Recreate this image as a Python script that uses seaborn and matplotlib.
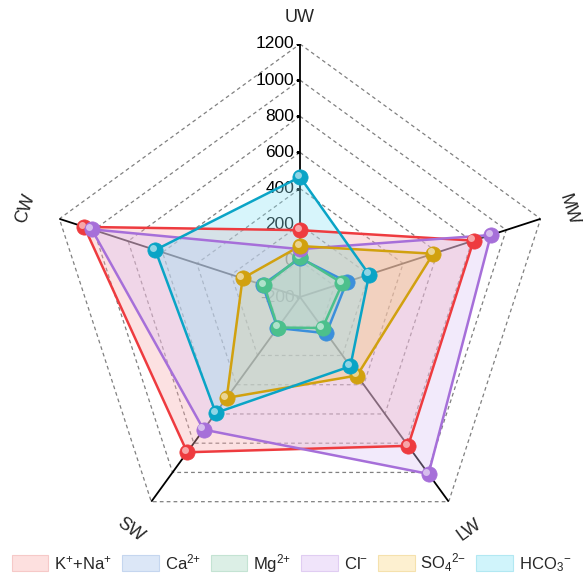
import numpy as np
import pandas as pd
import matplotlib
matplotlib.use("Agg")
import matplotlib.pyplot as plt
import seaborn as sns
from matplotlib.patches import Patch
from matplotlib.transforms import offset_copy

# data (mg/L)
sites = ["UW", "MW", "LW", "SW", "CW"]
k_na = [170, 810, 818, 862, 1055]
ca = [15, 72, 48, 12, 18]
mg = [20, 47, 12, 9, 9]
cl = [65, 910, 1010, 707, 1012]
so4 = [82, 575, 337, 490, 134]
hco3 = [464, 202, 274, 593, 642]

ion_labels = ["K$^{+}$+Na$^{+}$", "Ca$^{2{+}}$", "Mg$^{2{+}}$", "Cl$^{-}$",
              "SO$_4$$^{2{-}}$", "HCO$_3$$^{-}$"]
r_ticks = [-200, 0, 200, 400, 600, 800, 1000, 1200]

line_colors = ["#ee3b3f", "#3b8fdb", "#4cc08c", "#a66fd9", "#d1a10f", "#0aa4c6"]
fill_colors = ["#f9a9ad", "#9dc0ea", "#9fdcc0", "#dcc3f4", "#f6c873", "#8fe4f5"]
legend_faces = ["#fde0df", "#dce7f7", "#dcefe6", "#f0e4fa", "#fdf0d0", "#d0f4fb"]
legend_edges = ["#f6c9c8", "#c5d6ef", "#c4e3d3", "#e0cdf2", "#f5e1ad", "#b2e8f2"]

sns.set_theme(style="white")
plt.rcParams["font.family"] = ["Liberation Sans", "DejaVu Sans"]
plt.rcParams["mathtext.default"] = "regular"

# long table for seaborn
n = len(sites)
theta = np.pi / 2 - np.arange(n) * 2 * np.pi / n
series = [k_na, ca, mg, cl, so4, hco3]
rows = []
for lab, vals in zip(ion_labels, series):
    for i in range(n + 1):
        rows.append({"ion": lab, "theta": theta[i % n], "value": vals[i % n], "order": i})
df = pd.DataFrame(rows)

fig = plt.figure(figsize=(5.83, 5.78), dpi=100)
ax = fig.add_axes([47 / 583, 28 / 578, 506 / 583, 506 / 578], projection="polar")
ax.set_ylim(-200, 1200)
ax.grid(False)
ax.spines["polar"].set_visible(False)
ax.set_xticks([])
ax.set_yticks([])
ax.patch.set_alpha(0)

# pentagon grid
for t in r_ticks[1:]:
    ax.plot(np.append(theta, theta[0]), [t] * (n + 1), color="#808080",
            lw=0.9, ls=(0, (3, 2.5)), zorder=1)
# spokes
for th in theta:
    ax.plot([th, th], [-200, 1200], color="black", lw=1.3, zorder=2)

# radial tick labels on UW axis
ax.plot(np.full(len(r_ticks), np.pi / 2), r_ticks, ls="none", marker=0,
        ms=3, color="black", zorder=2)
lab_tr = offset_copy(ax.transData, fig=fig, x=-4, y=0, units="points")
for t in r_ticks:
    ax.text(np.pi / 2, t, str(t), transform=lab_tr, ha="right", va="center",
            fontsize=12.5, color="black", zorder=1)

# site labels, tangential like Origin
label_r = {"UW": 1345, "MW": 1365, "LW": 1395, "SW": 1395, "CW": 1395}
for th, s in zip(theta, sites):
    deg = np.degrees(th)
    rot = deg - 90 if np.sin(th) >= 0 else deg + 90
    ax.text(th, label_r[s], s, rotation=rot, rotation_mode="anchor", ha="center",
            va="center", fontsize=13, clip_on=False)

hl_tr = offset_copy(ax.transData, fig=fig, x=-1.6, y=1.6, units="points")
for k, lab in enumerate(ion_labels):
    sub = df[df["ion"] == lab].sort_values("order")
    ax.fill(sub["theta"], sub["value"], color=fill_colors[k], alpha=0.35,
            lw=0, zorder=3 + k)
    sns.lineplot(data=sub, x="theta", y="value", sort=False, estimator=None,
                 color=line_colors[k], lw=1.8, ax=ax, zorder=10 + k)
    pts = sub.iloc[:n]
    ax.plot(pts["theta"], pts["value"], ls="none", marker="o", ms=11,
            mfc=line_colors[k], mec=line_colors[k], mew=0.5, zorder=20 + k)
    ax.plot(pts["theta"], pts["value"], ls="none", marker="o", ms=5,
            mfc="white", mec="none", alpha=0.55, transform=hl_tr, zorder=20.5 + k)

ax.set_xlabel("")
ax.set_ylabel("")
ax.set_ylim(-200, 1200)

handles = [Patch(facecolor=legend_faces[k], edgecolor=legend_edges[k], lw=0.8)
           for k in range(len(ion_labels))]
fig.legend(handles, ion_labels, loc="lower center", bbox_to_anchor=(0.5, -0.02),
           ncol=6, frameon=False, fontsize=12, handlelength=2.2,
           handleheight=1.1, handletextpad=0.35, columnspacing=0.6)

fig.savefig("out.png", dpi=100)
